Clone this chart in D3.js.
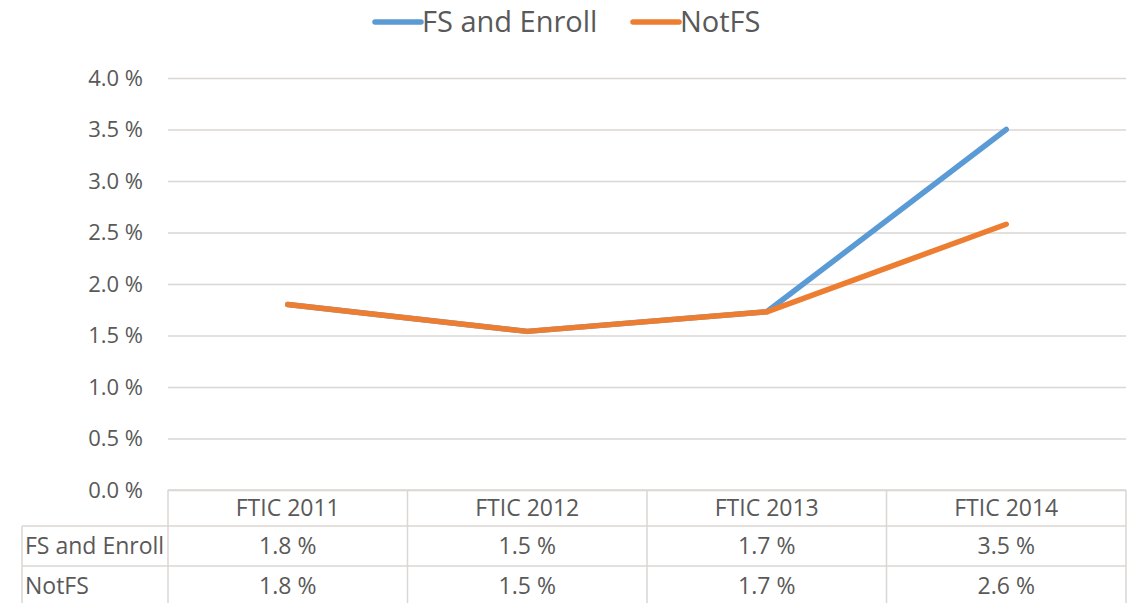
<!DOCTYPE html>
<html>
<head>
<meta charset="utf-8">
<script src="https://cdn.jsdelivr.net/npm/d3@7"></script>
<style>
    body { margin: 0; background: #fff; }
    svg { display: block; font-family: "Open Sans", "Liberation Sans", sans-serif; }
</style>
</head>
<body>
<svg width="1140" height="603"></svg>
<script>
let categories = ["FTIC 2011", "FTIC 2012", "FTIC 2013", "FTIC 2014"];
let seriesNames = ["FS and Enroll", "NotFS"];
let fsEnroll = [1.80, 1.54, 1.73, 3.50];
let notFS = [1.80, 1.54, 1.73, 2.58];
let yTicks = [0, 0.5, 1, 1.5, 2, 2.5, 3, 3.5, 4];
let colors = ["#5b9bd5", "#ed7d31"];

let svg = d3.select("svg");
let textColor = "#595959",
    gridColor = "#dad6d3";

let margin = {top: 78, left: 168, right: 14},
    plotBottom = 490,
    width = 1140 - margin.left - margin.right;

let x = d3.scaleBand().domain(categories).range([margin.left, margin.left + width]);
let y = d3.scaleLinear().domain([0, 4]).range([plotBottom, margin.top]);

let fmt = d3.format(".1f");
let series = [
    {id: seriesNames[0], values: fsEnroll, color: colors[0]},
    {id: seriesNames[1], values: notFS, color: colors[1]}
];

// gridlines + y labels
let yAxis = svg.append("g")
    .attr("transform", "translate(" + margin.left + ",0)")
    .call(d3.axisLeft(y).tickValues(yTicks).tickSize(-width).tickPadding(25)
        .tickFormat(function (d) { return fmt(d) + " %"; }));
yAxis.attr("font-family", null).attr("font-size", null);
yAxis.select(".domain").remove();
yAxis.selectAll(".tick line").attr("stroke", gridColor).attr("stroke-width", 1.5);
yAxis.selectAll(".tick text")
    .attr("fill", textColor)
    .style("font-size", "22px");

// lines
let line = d3.line()
    .x(function (d, i) { return x(categories[i]) + x.bandwidth() / 2; })
    .y(function (d) { return y(d); });

svg.selectAll(".series")
    .data(series)
    .enter().append("path")
    .attr("class", "series")
    .attr("d", function (d) { return line(d.values); })
    .attr("fill", "none")
    .attr("stroke", function (d) { return d.color; })
    .attr("stroke-width", 5.5)
    .attr("stroke-linecap", "round")
    .attr("stroke-linejoin", "round");

// data table
let rowTops = [plotBottom, 526, 566, 606];
let labelLeft = 22;
let table = svg.append("g");

// header row (only data columns)
table.append("line")
    .attr("x1", margin.left).attr("x2", margin.left + width)
    .attr("y1", rowTops[0]).attr("y2", rowTops[0]);
[1, 2, 3].forEach(function (r) {
    table.append("line")
        .attr("x1", labelLeft).attr("x2", margin.left + width)
        .attr("y1", rowTops[r]).attr("y2", rowTops[r]);
});
table.append("line")
    .attr("x1", labelLeft).attr("x2", labelLeft)
    .attr("y1", rowTops[1]).attr("y2", rowTops[3]);
let colEdges = categories.map(function (c) { return x(c); }).concat([margin.left + width]);
table.selectAll(".vline")
    .data(colEdges)
    .enter().append("line")
    .attr("x1", function (d) { return d; }).attr("x2", function (d) { return d; })
    .attr("y1", rowTops[0]).attr("y2", rowTops[3]);
table.selectAll("line").attr("stroke", gridColor).attr("stroke-width", 1.5);

table.selectAll(".head")
    .data(categories)
    .enter().append("text")
    .attr("x", function (d) { return x(d) + x.bandwidth() / 2; })
    .attr("y", (rowTops[0] + rowTops[1]) / 2)
    .attr("dy", "0.35em")
    .attr("text-anchor", "middle")
    .attr("fill", textColor)
    .style("font-size", "23px")
    .text(function (d) { return d; });

series.forEach(function (s, r) {
    let cy = (rowTops[r + 1] + rowTops[r + 2]) / 2;
    table.append("text")
        .attr("x", labelLeft + 3)
        .attr("y", cy)
        .attr("dy", "0.35em")
        .attr("fill", textColor)
        .style("font-size", "23px")
        .text(s.id);
    table.selectAll(".cell" + r)
        .data(s.values)
        .enter().append("text")
        .attr("x", function (d, i) { return x(categories[i]) + x.bandwidth() / 2; })
        .attr("y", cy)
        .attr("dy", "0.35em")
        .attr("text-anchor", "middle")
        .attr("fill", textColor)
        .style("font-size", "23px")
        .text(function (d) { return fmt(d) + " %"; });
});

// legend
let legendPos = [375, 633];
let legend = svg.selectAll(".legend")
    .data(series)
    .enter().append("g")
    .attr("transform", function (d, i) { return "translate(" + legendPos[i] + ",22)"; });
legend.append("line")
    .attr("x1", 0).attr("x2", 46)
    .attr("stroke", function (d) { return d.color; })
    .attr("stroke-width", 5.5)
    .attr("stroke-linecap", "round");
legend.append("text")
    .attr("x", 47)
    .attr("dy", "0.35em")
    .attr("fill", textColor)
    .style("font-size", "29px")
    .text(function (d) { return d.id; });
</script>
</body>
</html>
